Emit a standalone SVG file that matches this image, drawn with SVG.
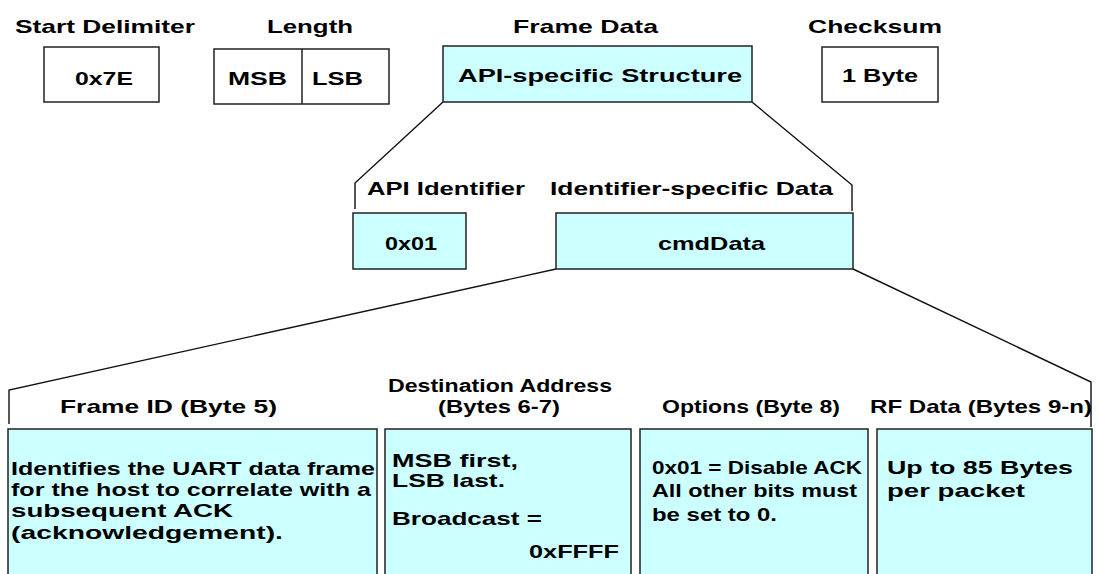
<svg xmlns="http://www.w3.org/2000/svg" width="1098" height="574" viewBox="0 0 1098 574">
<style>
text{font-family:"Liberation Sans",Arial,sans-serif;font-weight:bold;font-size:19px;fill:#000}
.sm{font-size:18px}
.box{fill:#fff;stroke:#222;stroke-width:1.5}
.cy{fill:#ccffff;stroke:#222;stroke-width:1.5}
.ln{fill:none;stroke:#111;stroke-width:1.4}
</style>
<rect width="1098" height="574" fill="#fff"/>
<g id="connectors">
<polyline class="ln" points="443,102 355,183 355,209"/>
<polyline class="ln" points="752,102 852,185 852,211"/>
<polyline class="ln" points="556,269 9,390 9,424"/>
<polyline class="ln" points="853,269 1091,382 1091,427"/>
</g>
<g id="start-delimiter">
<text x="15" y="33" textLength="180" lengthAdjust="spacingAndGlyphs">Start Delimiter</text>
<rect class="box" x="44" y="47" width="115" height="55"/>
<text x="75" y="85" textLength="58" lengthAdjust="spacingAndGlyphs">0x7E</text>
</g>
<g id="length">
<text x="267" y="33" textLength="86" lengthAdjust="spacingAndGlyphs">Length</text>
<rect class="box" x="214" y="49" width="175" height="55"/>
<line class="box" x1="302" y1="49" x2="302" y2="104"/>
<text x="228" y="85" textLength="59" lengthAdjust="spacingAndGlyphs">MSB</text>
<text x="312" y="85" textLength="51" lengthAdjust="spacingAndGlyphs">LSB</text>
</g>
<g id="frame-data">
<text x="513" y="33" textLength="145" lengthAdjust="spacingAndGlyphs">Frame Data</text>
<rect class="cy" x="443" y="46" width="309" height="56"/>
<text x="458" y="82" textLength="284" lengthAdjust="spacingAndGlyphs">API-specific Structure</text>
</g>
<g id="checksum">
<text x="808" y="33" textLength="134" lengthAdjust="spacingAndGlyphs">Checksum</text>
<rect class="box" x="822" y="47" width="116" height="55"/>
<text x="842" y="82" textLength="76" lengthAdjust="spacingAndGlyphs">1 Byte</text>
</g>
<g id="api-identifier">
<text x="367" y="195" textLength="158" lengthAdjust="spacingAndGlyphs">API Identifier</text>
<rect class="cy" x="353" y="213" width="113" height="56"/>
<text x="385" y="250" textLength="52" lengthAdjust="spacingAndGlyphs">0x01</text>
</g>
<g id="identifier-specific-data">
<text x="550" y="195" textLength="283" lengthAdjust="spacingAndGlyphs">Identifier-specific Data</text>
<rect class="cy" x="556" y="213" width="297" height="56"/>
<text x="658" y="250" textLength="107" lengthAdjust="spacingAndGlyphs">cmdData</text>
</g>
<g id="frame-id">
<text x="60" y="413" textLength="217" lengthAdjust="spacingAndGlyphs">Frame ID (Byte 5)</text>
<rect class="cy" x="8" y="429" width="369" height="160"/>
<text x="11" y="475" textLength="364" lengthAdjust="spacingAndGlyphs">Identifies the UART data frame</text>
<text x="11" y="496" textLength="360" lengthAdjust="spacingAndGlyphs">for the host to correlate with a</text>
<text x="11" y="517" textLength="222" lengthAdjust="spacingAndGlyphs">subsequent ACK</text>
<text x="11" y="539" textLength="272" lengthAdjust="spacingAndGlyphs">(acknowledgement).</text>
</g>
<g id="destination-address">
<text class="sm" x="388" y="392" textLength="224" lengthAdjust="spacingAndGlyphs">Destination Address</text>
<text class="sm" x="438" y="413" textLength="122" lengthAdjust="spacingAndGlyphs">(Bytes 6-7)</text>
<rect class="cy" x="385" y="429" width="246" height="160"/>
<text x="392" y="467" textLength="126" lengthAdjust="spacingAndGlyphs">MSB first,</text>
<text x="392" y="487" textLength="113" lengthAdjust="spacingAndGlyphs">LSB last.</text>
<text x="392" y="525" textLength="150" lengthAdjust="spacingAndGlyphs">Broadcast =</text>
<text x="529" y="558" textLength="90" lengthAdjust="spacingAndGlyphs">0xFFFF</text>
</g>
<g id="options">
<text x="662" y="413" textLength="178" lengthAdjust="spacingAndGlyphs">Options (Byte 8)</text>
<rect class="cy" x="640" y="429" width="228" height="160"/>
<text x="652" y="474" textLength="210" lengthAdjust="spacingAndGlyphs">0x01 = Disable ACK</text>
<text x="652" y="497" textLength="205" lengthAdjust="spacingAndGlyphs">All other bits must</text>
<text x="652" y="521" textLength="125" lengthAdjust="spacingAndGlyphs">be set to 0.</text>
</g>
<g id="rf-data">
<text x="870" y="413" textLength="222" lengthAdjust="spacingAndGlyphs">RF Data (Bytes 9-n)</text>
<rect class="cy" x="877" y="429" width="215" height="160"/>
<text x="887" y="474" textLength="186" lengthAdjust="spacingAndGlyphs">Up to 85 Bytes</text>
<text x="887" y="497" textLength="138" lengthAdjust="spacingAndGlyphs">per packet</text>
</g>
</svg>
